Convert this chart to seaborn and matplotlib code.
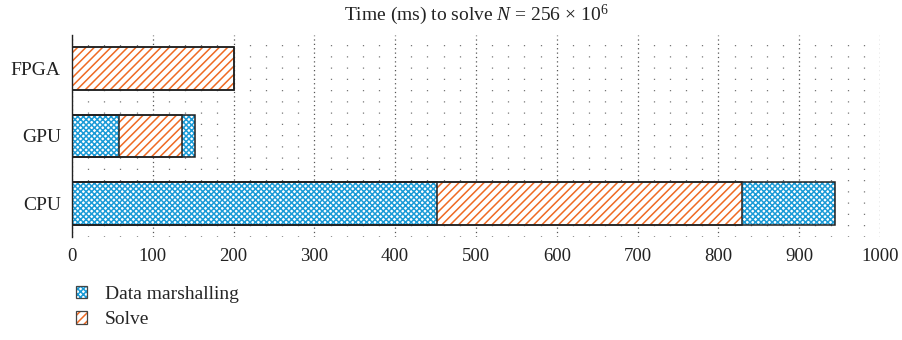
import pandas as pd
import numpy as np
import matplotlib.pyplot as plt
import seaborn as sns
from matplotlib.patches import Patch
from matplotlib.legend_handler import HandlerTuple
from matplotlib.ticker import MultipleLocator

sns.set_style('white')
plt.rcParams['font.family'] = ['Liberation Serif', 'DejaVu Serif']
plt.rcParams['mathtext.fontset'] = 'custom'
plt.rcParams['mathtext.rm'] = 'Liberation Serif'
plt.rcParams['mathtext.it'] = 'Liberation Serif:italic'
plt.rcParams['hatch.linewidth'] = 1.1

# data (ms)
devices = ['FPGA', 'GPU', 'CPU']
marshalling_before = [0, 58, 452]
solve = [200, 78, 377]
marshalling_after = [0, 16, 115]

BLUE = '#1b9bd7'
ORANGE = '#ef6a23'
EDGE = '#222222'
H_M = 'xxxxxx'
H_S = '////'

df = pd.DataFrame({
    'device': devices,
    'm1': marshalling_before,
    'solve': solve,
    'm2': marshalling_after,
})
df['end_solve'] = df['m1'] + df['solve']
df['end_all'] = df['end_solve'] + df['m2']

fig, ax = plt.subplots(figsize=(9.03, 3.40), dpi=100)
fig.subplots_adjust(left=0.0797, right=0.9745, bottom=0.303, top=0.897)

# layered cumulative bars, outermost first
layers = [('end_all', BLUE, H_M),
          ('end_solve', ORANGE, H_S),
          ('m1', BLUE, H_M)]
for col, hc, hatch in layers:
    sns.barplot(data=df, x=col, y='device', order=devices, orient='h',
                width=0.63, errorbar=None, ax=ax, color='white',
                edgecolor=hc, linewidth=0, hatch=hatch, zorder=2)
    sns.barplot(data=df, x=col, y='device', order=devices, orient='h',
                width=0.63, errorbar=None, ax=ax, color=EDGE,
                facecolor='none', edgecolor=EDGE, linewidth=1.1, zorder=3)

ax.set_xlim(0, 1000)
ax.set_ylim(2.5, -0.5)
ax.xaxis.set_major_locator(MultipleLocator(100))
ax.xaxis.set_minor_locator(MultipleLocator(20))
ax.grid(True, which='major', axis='x', color='#555555',
        linestyle=(0, (1, 2.5)), linewidth=0.9)
ax.grid(True, which='minor', axis='x', color='#777777',
        linestyle=(0, (1, 8)), linewidth=0.9)
ax.set_axisbelow(True)
ax.tick_params(axis='both', which='both', length=0, colors='#222222')
ax.tick_params(axis='x', pad=8, labelsize=13.5)
ax.tick_params(axis='y', pad=8, labelsize=14)
for s in ['top', 'right', 'bottom']:
    ax.spines[s].set_visible(False)
ax.spines['left'].set_color(EDGE)
ax.spines['left'].set_linewidth(1.0)
ax.set_xlabel('')
ax.set_ylabel('')
ax.set_title(r'Time (ms) to solve $N$ = 256 $\times$ 10$^6$', fontsize=14,
             color='#222222', pad=11)

# legend swatches: hatch layer plus dark outline
def swatch(hc, hatch):
    return (Patch(facecolor='white', edgecolor=hc, hatch=hatch, linewidth=0),
            Patch(facecolor='none', edgecolor='#444444', linewidth=0.9))

handles = [swatch(BLUE, H_M), swatch(ORANGE, H_S)]
fig.legend(handles=handles, labels=['Data marshalling', 'Solve'],
           handler_map={tuple: HandlerTuple(ndivide=1, pad=0)},
           loc='upper left', bbox_to_anchor=(0.075, 0.183),
           frameon=False, fontsize=14, handlelength=0.6, handleheight=0.6,
           handletextpad=0.9, labelspacing=0.45, borderaxespad=0)

plt.savefig('out.png', dpi=100)
plt.close(fig)
